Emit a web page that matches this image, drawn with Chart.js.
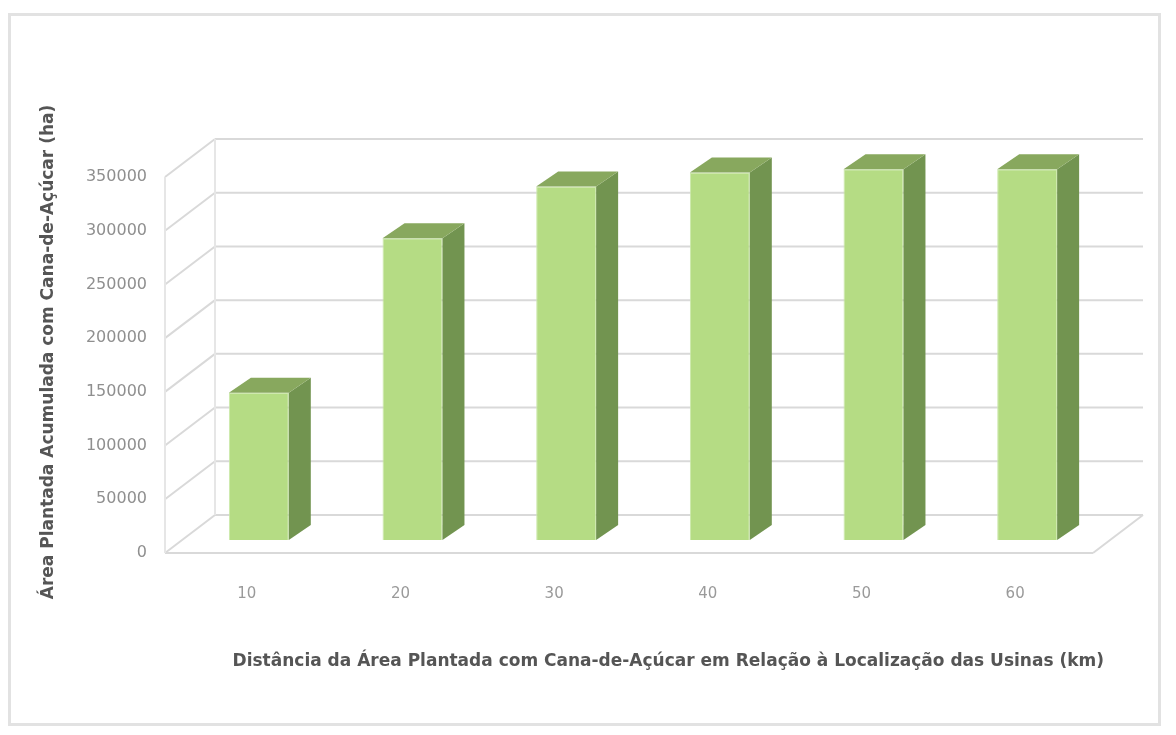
<!DOCTYPE html>
<html>
<head>
<meta charset="utf-8">
<script src="https://cdn.jsdelivr.net/npm/chart.js@4.4.1/dist/chart.umd.min.js"></script>
<style>
  html, body { margin: 0; padding: 0; background: #fff; }
  #wrap { position: relative; width: 1176px; height: 735px; overflow: hidden; }
  #frame { position: absolute; left: 8px; top: 13px; width: 1153px; height: 713px;
           border: 3px solid #e2e2e2; box-sizing: border-box; }
  canvas { position: absolute; left: 0; top: 0; }
</style>
</head>
<body>
<div id="wrap">
  <div id="frame"></div>
  <canvas id="chart" width="1176" height="735"></canvas>
</div>
<script>
const categories = ['10', '20', '30', '40', '50', '60'];
const areaHa     = [137000, 281000, 329000, 342000, 345000, 345000];
const yMin = 0, yMax = 350000, yStep = 50000;

const yTitle = 'Área Plantada Acumulada com Cana-de-Açúcar (ha)';
const xTitle = 'Distância da Área Plantada com Cana-de-Açúcar em Relação à Localização das Usinas (km)';

Chart.defaults.font.family = '"DejaVu Sans", sans-serif';

// fake 3D: floor depth and bar depth offsets (px)
const FLOOR = { dx: 50, dy: -38, front: 13, left: 17, right: 11 };
const BAR3D = { dx: 22, dy: -15 };

function line(ctx, x0, y0, x1, y1) {
  ctx.beginPath(); ctx.moveTo(x0, y0); ctx.lineTo(x1, y1); ctx.stroke();
}

const walls = {
  id: 'walls',
  beforeDatasetsDraw(chart) {
    const { ctx, chartArea: a, scales: { y } } = chart;
    const xf0 = a.left - FLOOR.left, xf1 = a.right - FLOOR.right;
    const xb0 = xf0 + FLOOR.dx,      xb1 = xf1 + FLOOR.dx;
    ctx.save();
    ctx.strokeStyle = '#d9d9d9';
    ctx.lineWidth = 2;
    y.ticks.forEach(t => {
      const yp = y.getPixelForValue(t.value);
      const yf = yp + FLOOR.front, yb = yf + FLOOR.dy;
      line(ctx, xb0, yb, xb1, yb);
      line(ctx, xf0, yf, xb0, yb);
    });
    const y0f = y.getPixelForValue(yMin) + FLOOR.front;
    const yTopF = y.getPixelForValue(yMax) + FLOOR.front;
    line(ctx, xf0, y0f, xf1, y0f);
    line(ctx, xf1, y0f, xb1, y0f + FLOOR.dy);
    ctx.strokeStyle = '#e6e6e6';
    line(ctx, xf0, y0f, xf0, yTopF);
    line(ctx, xb0, y0f + FLOOR.dy, xb0, yTopF + FLOOR.dy);
    ctx.restore();
  },
  afterDatasetsDraw(chart) {
    const { ctx } = chart;
    const meta = chart.getDatasetMeta(0);
    ctx.save();
    meta.data.forEach(el => {
      const { x, y, base, width } = el.getProps(['x', 'y', 'base', 'width'], true);
      const xl = x - width / 2, xr = x + width / 2;
      // side face
      ctx.fillStyle = '#729450';
      ctx.beginPath();
      ctx.moveTo(xr, y);
      ctx.lineTo(xr + BAR3D.dx, y + BAR3D.dy);
      ctx.lineTo(xr + BAR3D.dx, base + BAR3D.dy);
      ctx.lineTo(xr, base);
      ctx.closePath(); ctx.fill();
      // top face
      ctx.fillStyle = '#88a85e';
      ctx.beginPath();
      ctx.moveTo(xl, y);
      ctx.lineTo(xl + BAR3D.dx, y + BAR3D.dy);
      ctx.lineTo(xr + BAR3D.dx, y + BAR3D.dy);
      ctx.lineTo(xr, y);
      ctx.closePath(); ctx.fill();
    });
    ctx.restore();
  }
};

new Chart(document.getElementById('chart'), {
  type: 'bar',
  data: {
    labels: categories,
    datasets: [{
      data: areaHa,
      backgroundColor: '#b5dc84',
      borderColor: '#cbe8a9',
      borderWidth: 1,
      categoryPercentage: 1,
      barPercentage: 0.39,
    }],
  },
  options: {
    responsive: false,
    animation: false,
    layout: { padding: { left: 10, top: 164, right: 72, bottom: 0 } },
    plugins: { legend: { display: false }, tooltip: { enabled: false } },
    scales: {
      x: {
        grid: { display: false, drawTicks: false },
        border: { display: false },
        ticks: { color: '#9a9a9a', font: { size: 15 }, padding: 45, labelOffset: -12 },
        title: { display: true, text: xTitle, color: '#555', align: 'end',
                 font: { size: 17, weight: 'bold' }, padding: { top: 0, bottom: 63 } },
        afterFit(s) { s.height = 195; },
      },
      y: {
        min: yMin, max: yMax,
        grid: { display: false, drawTicks: false },
        border: { display: false },
        ticks: { stepSize: yStep, color: '#8f8f8f', font: { size: 16 }, padding: 35, labelOffset: 13,
                 callback: v => String(v) },
        title: { display: true, text: yTitle, color: '#555', font: { size: 17, weight: 'bold' },
                 padding: { top: 28, bottom: 0 } },
        afterFit(s) { s.width = 172; },
      },
    },
  },
  plugins: [walls],
});
</script>
</body>
</html>
